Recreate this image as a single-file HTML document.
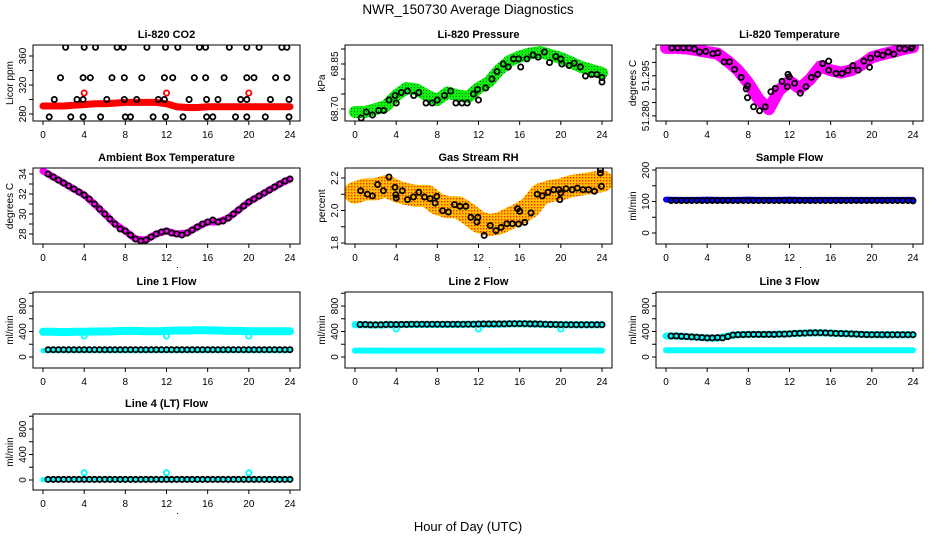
<!DOCTYPE html>
<html><head><meta charset="utf-8">
<style>
html,body{margin:0;padding:0;background:#fff;}
svg{display:block;font-family:"Liberation Sans",Arial,sans-serif;}
</style></head>
<body>
<svg id="chart" width="936" height="540" viewBox="0 0 936 540" xmlns="http://www.w3.org/2000/svg">
<defs>
<pattern id="rhPat" width="3" height="3" patternUnits="userSpaceOnUse"><rect width="3" height="3" fill="#ffc000"/><rect x="0" y="0" width="1.4" height="1.4" fill="#f03000"/></pattern>
<pattern id="prPat" width="3" height="3" patternUnits="userSpaceOnUse"><rect width="3" height="3" fill="#10ee10"/><rect x="0" y="0" width="1" height="1" fill="#0a7a0a"/></pattern>
</defs>
<rect width="936" height="540" fill="#fff"/>
<text x="468" y="14" text-anchor="middle" font-size="13.5">NWR_150730  Average Diagnostics</text>
<text x="468" y="531" text-anchor="middle" font-size="13">Hour of Day (UTC)</text>
</svg>
<script>
// ---------- shared categories ----------
const xTicks = [0,4,8,12,16,20,24];
const hours = [0,1,2,3,4,5,6,7,8,9,10,11,12,13,14,15,16,17,18,19,20,21,22,23,24];
const halfHours = [0.5,1,1.5,2,2.5,3,3.5,4,4.5,5,5.5,6,6.5,7,7.5,8,8.5,9,9.5,10,10.5,11,11.5,12,12.5,13,13.5,14,14.5,15,15.5,16,16.5,17,17.5,18,18.5,19,19.5,20,20.5,21,21.5,22,22.5,23,23.5,24];

// ---------- CO2 ----------
const co2Ticks = [280,300,320,340,360];
const co2Labels = ["280","","320","","360"];
const co2BlackT = [2.2,4.0,5.1,7.2,7.8,10.1,11.9,13.1,15.2,15.8,18.1,19.8,21.0,23.2,23.7,
  1.7,3.9,4.6,6.7,7.9,9.6,11.8,12.6,14.7,15.8,17.6,19.8,20.5,22.6,23.7,
  1.1,3.3,3.9,6.2,7.9,9.1,11.2,11.8,14.2,15.9,17.0,19.2,19.8,22.1,23.9,
  0.6,2.7,3.9,5.6,8.0,8.5,10.7,11.9,13.6,15.9,16.5,18.7,19.8,21.6,23.9];
const co2BlackV = [372,372,372,372,372,372,372,372,372,372,372,372,372,372,372,
  330,330,330,330,330,330,330,330,330,330,330,330,330,330,330,
  300,300,300,300,300,300,300,300,300,300,300,300,300,300,300,
  276,276,276,276,276,276,276,276,276,276,276,276,276,276,276];
const co2Red = [291,291,291,292,293,294,294,295,296,296,296,296,294,290,289,289,290,290,290,290,290,290,290,290,290];
const co2RedOutT = [4,12,20];
const co2RedOutV = [309,309,309];

// ---------- Pressure ----------
const prTicks = [68.70,68.75,68.80,68.85,68.90];
const prLabels = ["68.70","","","68.85",""];
const prBlackT = [0.6,1.1,1.7,2.3,2.8,3.3,3.9,4.0,4.5,5.1,5.7,6.2,6.9,7.5,8.0,8.7,9.3,9.8,10.4,10.9,11.5,12.0,11.9,12.7,13.3,13.8,14.4,14.9,15.4,15.9,16.1,16.7,17.3,17.8,18.4,18.9,19.5,20.0,20.1,20.8,21.3,21.9,22.4,23.0,23.5,24.0,24.0];
const prBlackV = [68.67,68.69,68.68,68.695,68.695,68.73,68.745,68.72,68.755,68.76,68.745,68.755,68.72,68.72,68.73,68.745,68.76,68.72,68.72,68.72,68.75,68.73,68.765,68.77,68.80,68.825,68.85,68.84,68.867,68.867,68.84,68.867,68.88,68.873,68.89,68.855,68.875,68.867,68.85,68.845,68.853,68.84,68.81,68.815,68.815,68.805,68.79];
const prGreen = [68.69,68.69,68.70,68.71,68.745,68.77,68.765,68.745,68.73,68.755,68.745,68.74,68.77,68.79,68.83,68.86,68.875,68.885,68.89,68.88,68.87,68.855,68.84,68.83,68.82];

// ---------- Li-820 temperature ----------
const tmTicks = [51.280,51.285,51.290,51.295,51.300,51.305];
const tmLabels = ["51.280","","","51.295","",""];
const tmBlackT = [0.55,1.14,1.69,2.24,2.76,3.25,3.86,4.55,5.03,5.65,6.17,6.66,7.31,7.79,7.92,7.92,8.51,9.09,9.64,10.19,10.62,11.27,11.79,11.85,11.98,12.5,13.05,13.6,14.12,14.74,15.23,15.81,15.81,16.53,17.11,17.66,18.15,18.67,19.22,19.77,19.87,20.52,21.07,21.59,22.14,22.69,23.21,23.83,23.93];
const tmBlackV = [51.3054,51.3054,51.3054,51.3054,51.3050,51.3039,51.3041,51.3033,51.3036,51.3002,51.3002,51.2974,51.2944,51.2901,51.2912,51.2868,51.2834,51.2819,51.2834,51.2890,51.2903,51.2929,51.2909,51.2955,51.2946,51.2922,51.2885,51.2909,51.2944,51.2955,51.2996,51.3005,51.2971,51.2959,51.2959,51.2969,51.2988,51.2971,51.3005,51.2982,51.3016,51.3031,51.3027,51.3039,51.3031,51.3053,51.3050,51.3053,51.3059];
const tmBand = [51.3054,51.3054,51.3052,51.3046,51.3039,51.3033,51.3005,51.2971,51.2923,51.2862,51.2825,51.2896,51.2930,51.2903,51.2937,51.2985,51.2971,51.2962,51.2971,51.2991,51.3019,51.3030,51.3039,51.3049,51.3057];

// ---------- Ambient box temperature ----------
const abTicks = [28,29,30,31,32,33,34];
const abLabels = ["28","","30","","32","","34"];
const abVals = [34.0,33.7,33.4,33.1,32.8,32.5,32.2,31.9,31.5,31.0,30.5,30.0,29.5,29.0,28.5,28.3,27.9,27.5,27.3,27.4,27.7,28.0,28.2,28.3,28.1,28.0,27.9,28.1,28.4,28.7,29.0,29.2,29.4,29.2,29.3,29.6,30.0,30.4,30.8,31.2,31.5,31.8,32.1,32.4,32.7,33.0,33.3,33.5];
const abBand = [34.3,33.7,33.1,32.5,31.9,31.0,30.0,29.0,28.3,27.5,27.4,28.0,28.3,28.0,28.1,28.7,29.2,29.2,29.6,30.4,31.2,31.8,32.4,33.0,33.5];

// ---------- Gas stream RH ----------
const rhTicks = [1.8,1.9,2.0,2.1,2.2];
const rhLabels = ["1.8","","2.0","","2.2"];
const rhBlackT = [0.55,1.2,1.69,2.2,2.76,3.3,3.89,3.96,4.0,4.6,5.1,5.68,6.2,6.75,7.3,7.78,7.95,8.5,9.08,9.67,10.2,10.77,11.26,11.84,11.94,12.55,13.14,13.7,14.2,14.76,15.3,15.8,15.9,16.0,16.5,17.1,17.7,18.2,18.75,19.3,19.8,19.9,20.0,20.5,21.1,21.6,22.15,22.7,23.26,23.84,23.84,23.94];
const rhBlackV = [2.122,2.10,2.09,2.16,2.122,2.206,2.143,2.097,2.077,2.122,2.067,2.083,2.112,2.083,2.073,2.046,2.087,1.999,1.991,2.036,2.026,2.026,1.958,1.929,1.958,1.847,1.907,1.876,1.896,1.919,1.919,2.011,1.917,1.995,1.927,1.985,2.10,2.09,2.112,2.128,2.128,2.067,2.108,2.134,2.128,2.138,2.128,2.128,2.118,2.251,2.231,2.149];
const rhBand = [2.11,2.13,2.13,2.15,2.12,2.10,2.09,2.09,2.04,2.02,2.02,1.98,1.93,1.91,1.92,1.95,1.98,2.02,2.10,2.12,2.13,2.15,2.16,2.17,2.18];

// ---------- Sample flow ----------
const sfTicks = [0,50,100,150,200];
const sfLabels = ["0","","100","","200"];
const sfBlack = [103,103,103,103,103,103,103,103,103,103,103,103,103,103,103,103,103,103,103,103,103,103,103,103,103,103,103,103,103,103,103,103,103,103,103,103,103,103,103,103,103,103,103,103,103,103,103,102];
const sfBlue = [106,105,105,105,106,105,105,105,106,105,105,105,106,105,105,105,105,105,105,105,105,105,105,105,105];

// ---------- Line flows ----------
const lfTicks = [0,200,400,600,800,1000];
const lfLabels = ["0","","400","","800",""];
const l1Black = [115,115,115,115,115,115,115,115,115,115,115,115,115,115,115,115,115,115,115,115,115,115,115,115,115,115,115,115,115,115,115,115,115,115,115,115,115,115,115,115,115,115,115,115,115,115,115,115];
const l1CyanHi = [395,395,390,395,395,400,400,405,410,410,405,405,410,415,415,420,420,415,410,410,405,405,405,405,405];
const l1CyanLo = [100,100,100,100,100,100,100,100,100,100,100,100,100,100,100,100,100,100,100,100,100,100,100,100,100];
const l1OutT = [4,12,20];
const l1OutV = [330,330,330];
const l2Black = [510,510,505,505,505,510,510,510,512,512,515,515,515,515,515,515,515,515,515,515,515,515,515,518,520,520,520,520,520,522,522,522,522,520,520,518,515,512,510,508,506,506,506,506,506,506,506,506];
const l2CyanHi = [505,505,500,505,505,510,510,510,510,510,510,515,515,515,515,520,520,520,515,510,505,505,505,505,505];
const l2CyanLo = [100,100,100,100,100,100,100,100,100,100,100,100,100,100,100,100,100,100,100,100,100,100,100,100,100];
const l2OutT = [4,12,20];
const l2OutV = [440,440,440];
const l3Black = [330,330,325,320,315,310,305,300,300,305,300,320,345,350,352,355,355,355,355,355,355,358,360,362,370,372,375,378,380,380,378,375,370,368,365,362,360,355,352,350,352,350,350,350,350,350,350,350];
const l3CyanHi = [330,330,320,310,300,295,330,350,355,355,355,360,362,372,378,380,375,368,362,355,350,350,350,350,350];
const l3CyanLo = [105,105,105,105,105,105,105,105,105,105,105,105,105,105,105,105,105,105,105,105,105,105,105,105,105];
const l4Black = [10,10,10,10,10,10,10,10,10,10,10,10,10,10,10,10,10,10,10,10,10,10,10,10,10,10,10,10,10,10,10,10,10,10,10,10,10,10,10,10,10,10,10,10,10,10,10,10];
const l4Cyan = [5,5,5,5,5,5,5,5,5,5,5,5,5,5,5,5,5,5,5,5,5,5,5,5,5];
const l4OutT = [4,12,20];
const l4OutV = [115,115,115];

// ---------- drawing ----------
const NS = "http://www.w3.org/2000/svg";
const svg = document.getElementById("chart");
function mk(tag, attrs, parent){
  const e = document.createElementNS(NS, tag);
  for (const k in attrs) e.setAttribute(k, attrs[k]);
  parent.appendChild(e);
  return e;
}
function makePanel(id, title, ylab, left, top, lo, hi, ticks, labels, dotBelow){
  const W = 267, H = 76;
  const g = mk("g", {}, svg);
  
  
  const sx = t => left + 10 + t * (247 / 24);
  const sy = v => top + H - (v - lo) / (hi - lo) * H;
  const t = mk("text", {x: left + W/2, y: top - 7, "text-anchor": "middle", "font-size": "11", "font-weight": "bold"}, g);
  
  
  t.textContent = title;
  const xa = mk("g", {}, g);
  
  
  for (const v of xTicks){
    mk("line", {x1: sx(v), x2: sx(v), y1: top + H, y2: top + H + 4, stroke: "#000", "stroke-width": 1}, xa);
    const lb = mk("text", {x: sx(v), y: top + H + 17, "text-anchor": "middle", "font-size": "10"}, xa);
    
    
    lb.textContent = String(v);
  }
  const ya = mk("g", {}, g);
  
  
  ticks.forEach((v, i) => {
    const y = sy(v);
    mk("line", {x1: left - 4, x2: left, y1: y, y2: y, stroke: "#000", "stroke-width": 1}, ya);
    if (labels[i]){
      const lb = mk("text", {transform: `translate(${left - 7},${y}) rotate(-90)`, "text-anchor": "middle", "font-size": "10"}, ya);
      
      
      lb.textContent = labels[i];
    }
  });
  const yl = mk("text", {transform: `translate(${left - 20},${top + H/2}) rotate(-90)`, "text-anchor": "middle", "font-size": "10"}, g);
  
  
  yl.textContent = ylab;
  if (dotBelow) mk("rect", {x: left + 144, y: top + H + 23, width: 1, height: 1, fill: "#000"}, g);
  const plot = mk("g", {}, g);
  
  
  const cp = mk("clipPath", {id: id + "-clip"}, g);
  mk("rect", {x: left, y: top, width: W, height: H}, cp);
  plot.setAttribute("clip-path", `url(#${id}-clip)`);
  const box = mk("rect", {x: left, y: top, width: W, height: H, fill: "none", stroke: "#000", "stroke-width": 1}, g);
  
  
  return {plot, sx, sy};
}
function band(p, ts, vs, color, w, name){
  const pts = ts.map((t, i) => `${p.sx(t).toFixed(1)},${p.sy(vs[i]).toFixed(1)}`).join(" ");
  const e = mk("polyline", {points: pts, fill: "none", stroke: color, "stroke-width": w, "stroke-linejoin": "round", "stroke-linecap": "round"}, p.plot);
  
  
}
function circles(p, ts, vs, color, name, r){
  const g = mk("g", {}, p.plot);
  
  
  ts.forEach((t, i) => {
    mk("circle", {cx: p.sx(t).toFixed(1), cy: p.sy(vs[i]).toFixed(1), r: r || 2.6, fill: "none", stroke: color, "stroke-width": 1.8}, g);
  });
}

const C1 = 33, C2 = 345, C3 = 656;
const R1 = 45, R2 = 168, R3 = 292, R4 = 414;

let p = makePanel("co2", "Li-820 CO2", "Licor ppm", C1, R1, 270.3, 375.2, co2Ticks, co2Labels, false);
band(p, hours, co2Red, "#ff0000", 7, "co2-red-band");
circles(p, co2RedOutT, co2RedOutV, "#ff0000", "co2-red-outliers");
circles(p, co2BlackT, co2BlackV, "#000", "co2-black-points");

p = makePanel("pressure", "Li-820 Pressure", "kPa", C2, R1, 68.66, 68.9133, prTicks, prLabels, false);
band(p, hours, prGreen, "url(#prPat)", 12, "pressure-green-band");
circles(p, prBlackT, prBlackV, "#000", "pressure-black-points");

p = makePanel("licor-temp", "Li-820 Temperature", "degrees C", C3, R1, 51.2781, 51.3065, tmTicks, tmLabels, false);
band(p, hours, tmBand, "#ff00ff", 12, "licor-temp-magenta-band");
circles(p, tmBlackT, tmBlackV, "#000", "licor-temp-black-points");

p = makePanel("ambient", "Ambient Box Temperature", "degrees C", C1, R2, 27.0, 34.6, abTicks, abLabels, true);
band(p, hours, abBand, "#ff00ff", 7, "ambient-magenta-band");
circles(p, halfHours, abVals, "#000", "ambient-black-points");

p = makePanel("rh", "Gas Stream RH", "percent", C2, R2, 1.7938, 2.2615, rhTicks, rhLabels, true);
band(p, hours, rhBand, "url(#rhPat)", 22, "rh-orange-band");
circles(p, rhBlackT, rhBlackV, "#000", "rh-black-points");

p = makePanel("sample-flow", "Sample Flow", "ml/min", C3, R2, -34.9, 206.3, sfTicks, sfLabels, true);
band(p, hours, sfBlue, "#0000ff", 6, "sample-flow-blue-band");
circles(p, halfHours, sfBlack, "#000", "sample-flow-black-points");

p = makePanel("line1", "Line 1 Flow", "ml/min", C1, R3, -172.5, 1019.6, lfTicks, lfLabels, false);
band(p, hours, l1CyanHi, "#00ffff", 8, "line1-cyan-high-band");
band(p, hours, l1CyanLo, "#00ffff", 5, "line1-cyan-low-band");
circles(p, l1OutT, l1OutV, "#00ffff", "line1-cyan-outliers");
circles(p, halfHours, l1Black, "#000", "line1-black-points");

p = makePanel("line2", "Line 2 Flow", "ml/min", C2, R3, -172.5, 1019.6, lfTicks, lfLabels, false);
band(p, hours, l2CyanHi, "#00ffff", 7, "line2-cyan-high-band");
band(p, hours, l2CyanLo, "#00ffff", 6, "line2-cyan-low-band");
circles(p, l2OutT, l2OutV, "#00ffff", "line2-cyan-outliers");
circles(p, halfHours, l2Black, "#000", "line2-black-points");

p = makePanel("line3", "Line 3 Flow", "ml/min", C3, R3, -172.5, 1019.6, lfTicks, lfLabels, false);
band(p, hours, l3CyanHi, "#00ffff", 7, "line3-cyan-high-band");
band(p, hours, l3CyanLo, "#00ffff", 6, "line3-cyan-low-band");
circles(p, halfHours, l3Black, "#000", "line3-black-points");

p = makePanel("line4", "Line 4 (LT) Flow", "ml/min", C1, R4, -157, 1035, lfTicks, lfLabels, true);
band(p, hours, l4Cyan, "#00ffff", 5, "line4-cyan-band");
circles(p, l4OutT, l4OutV, "#00ffff", "line4-cyan-outliers");
circles(p, halfHours, l4Black, "#000", "line4-black-points");
</script>
</body></html>
